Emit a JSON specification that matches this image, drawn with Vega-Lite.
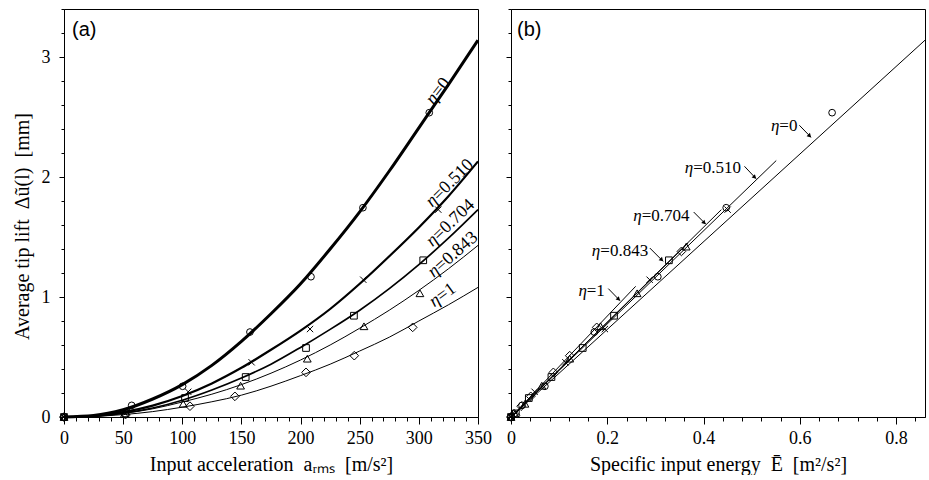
{
  "$schema": "https://vega.github.io/schema/vega-lite/v6.json",
  "background": "white",
  "padding": {"left": 11, "top": 7, "right": 0, "bottom": 0},
  "spacing": 33,
  "bounds": "flush",
  "config": {
    "font": "Liberation Serif, Times New Roman, serif",
    "view": {"stroke": "black", "strokeWidth": 1},
    "axis": {
      "domainColor": "black", "tickColor": "black", "labelColor": "black", "titleColor": "black",
      "grid": false, "labelFontSize": 18, "titleFontSize": 20, "titleFontWeight": "normal",
      "labelFont": "Liberation Serif, Times New Roman, serif", "titleFont": "Liberation Serif, Times New Roman, serif",
      "labelOverlap": false, "labelFlush": false, "domainWidth": 1, "tickWidth": 1
    },
    "text": {"font": "Liberation Serif, Times New Roman, serif", "color": "black"}
  },
  "datasets": {
    "curvesA": [
      {"eta": "0", "x": 0, "y": 0}, {"eta": "0", "x": 25, "y": 0.012}, {"eta": "0", "x": 50, "y": 0.06}, {"eta": "0", "x": 75, "y": 0.15}, {"eta": "0", "x": 100, "y": 0.27}, {"eta": "0", "x": 125, "y": 0.43}, {"eta": "0", "x": 150, "y": 0.63}, {"eta": "0", "x": 175, "y": 0.86}, {"eta": "0", "x": 200, "y": 1.11}, {"eta": "0", "x": 225, "y": 1.4}, {"eta": "0", "x": 250, "y": 1.71}, {"eta": "0", "x": 275, "y": 2.05}, {"eta": "0", "x": 300, "y": 2.41}, {"eta": "0", "x": 325, "y": 2.77}, {"eta": "0", "x": 350, "y": 3.14},
      {"eta": "0.510", "x": 0, "y": 0}, {"eta": "0.510", "x": 25, "y": 0.008}, {"eta": "0.510", "x": 50, "y": 0.04}, {"eta": "0.510", "x": 75, "y": 0.095}, {"eta": "0.510", "x": 100, "y": 0.175}, {"eta": "0.510", "x": 125, "y": 0.28}, {"eta": "0.510", "x": 150, "y": 0.41}, {"eta": "0.510", "x": 175, "y": 0.56}, {"eta": "0.510", "x": 200, "y": 0.72}, {"eta": "0.510", "x": 225, "y": 0.9}, {"eta": "0.510", "x": 250, "y": 1.11}, {"eta": "0.510", "x": 275, "y": 1.34}, {"eta": "0.510", "x": 300, "y": 1.58}, {"eta": "0.510", "x": 325, "y": 1.84}, {"eta": "0.510", "x": 350, "y": 2.13},
      {"eta": "0.704", "x": 0, "y": 0}, {"eta": "0.704", "x": 25, "y": 0.007}, {"eta": "0.704", "x": 50, "y": 0.032}, {"eta": "0.704", "x": 75, "y": 0.075}, {"eta": "0.704", "x": 100, "y": 0.14}, {"eta": "0.704", "x": 125, "y": 0.225}, {"eta": "0.704", "x": 150, "y": 0.325}, {"eta": "0.704", "x": 175, "y": 0.44}, {"eta": "0.704", "x": 200, "y": 0.58}, {"eta": "0.704", "x": 225, "y": 0.73}, {"eta": "0.704", "x": 250, "y": 0.89}, {"eta": "0.704", "x": 275, "y": 1.07}, {"eta": "0.704", "x": 300, "y": 1.27}, {"eta": "0.704", "x": 325, "y": 1.49}, {"eta": "0.704", "x": 350, "y": 1.728},
      {"eta": "0.843", "x": 0, "y": 0}, {"eta": "0.843", "x": 25, "y": 0.007}, {"eta": "0.843", "x": 50, "y": 0.03}, {"eta": "0.843", "x": 75, "y": 0.068}, {"eta": "0.843", "x": 100, "y": 0.125}, {"eta": "0.843", "x": 125, "y": 0.19}, {"eta": "0.843", "x": 150, "y": 0.27}, {"eta": "0.843", "x": 175, "y": 0.365}, {"eta": "0.843", "x": 200, "y": 0.475}, {"eta": "0.843", "x": 225, "y": 0.6}, {"eta": "0.843", "x": 250, "y": 0.74}, {"eta": "0.843", "x": 275, "y": 0.89}, {"eta": "0.843", "x": 300, "y": 1.055}, {"eta": "0.843", "x": 325, "y": 1.235}, {"eta": "0.843", "x": 350, "y": 1.43},
      {"eta": "1", "x": 0, "y": 0}, {"eta": "1", "x": 25, "y": 0.005}, {"eta": "1", "x": 50, "y": 0.02}, {"eta": "1", "x": 75, "y": 0.045}, {"eta": "1", "x": 100, "y": 0.082}, {"eta": "1", "x": 125, "y": 0.127}, {"eta": "1", "x": 150, "y": 0.182}, {"eta": "1", "x": 175, "y": 0.257}, {"eta": "1", "x": 200, "y": 0.345}, {"eta": "1", "x": 225, "y": 0.44}, {"eta": "1", "x": 250, "y": 0.55}, {"eta": "1", "x": 275, "y": 0.665}, {"eta": "1", "x": 300, "y": 0.8}, {"eta": "1", "x": 325, "y": 0.935}, {"eta": "1", "x": 350, "y": 1.08}
    ],
    "pointsA": [
      {"eta": "0", "x": 0, "y": 0}, {"eta": "0", "x": 57.2, "y": 0.097}, {"eta": "0", "x": 100.3, "y": 0.256}, {"eta": "0", "x": 157.2, "y": 0.708}, {"eta": "0", "x": 208.8, "y": 1.169}, {"eta": "0", "x": 252.7, "y": 1.744}, {"eta": "0", "x": 308.8, "y": 2.536},
      {"eta": "0.510", "x": 0, "y": 0}, {"eta": "0.510", "x": 53, "y": 0.04}, {"eta": "0.510", "x": 105, "y": 0.21}, {"eta": "0.510", "x": 158.6, "y": 0.456}, {"eta": "0.510", "x": 208, "y": 0.733}, {"eta": "0.510", "x": 253, "y": 1.144}, {"eta": "0.510", "x": 316.4, "y": 1.728},
      {"eta": "0.704", "x": 0, "y": 0}, {"eta": "0.704", "x": 52, "y": 0.03}, {"eta": "0.704", "x": 102.3, "y": 0.158}, {"eta": "0.704", "x": 153.6, "y": 0.333}, {"eta": "0.704", "x": 204.6, "y": 0.575}, {"eta": "0.704", "x": 245.1, "y": 0.844}, {"eta": "0.704", "x": 303.7, "y": 1.306},
      {"eta": "0.843", "x": 0, "y": 0}, {"eta": "0.843", "x": 51, "y": 0.025}, {"eta": "0.843", "x": 100.8, "y": 0.11}, {"eta": "0.843", "x": 149.3, "y": 0.261}, {"eta": "0.843", "x": 205.7, "y": 0.486}, {"eta": "0.843", "x": 253.6, "y": 0.756}, {"eta": "0.843", "x": 300.9, "y": 1.031},
      {"eta": "1", "x": 0, "y": 0}, {"eta": "1", "x": 52, "y": 0.02}, {"eta": "1", "x": 106.5, "y": 0.09}, {"eta": "1", "x": 144.5, "y": 0.172}, {"eta": "1", "x": 204.6, "y": 0.372}, {"eta": "1", "x": 245.4, "y": 0.511}, {"eta": "1", "x": 294.8, "y": 0.747}
    ],
    "labelsA": [
      {"eta": "0", "x": 316.4, "y": 2.714, "t": "=0"},
      {"eta": "0.510", "x": 326.3, "y": 1.95, "t": "=0.510"},
      {"eta": "0.704", "x": 326.9, "y": 1.617, "t": "=0.704"},
      {"eta": "0.843", "x": 328.9, "y": 1.353, "t": "=0.843"},
      {"eta": "1", "x": 320.1, "y": 1.014, "t": "=1"}
    ],
    "linesB": [
      {"eta": "0", "x": 0, "y": 0}, {"eta": "0", "x": 0.86, "y": 3.14},
      {"eta": "0.510", "x": 0, "y": 0}, {"eta": "0.510", "x": 0.551, "y": 2.137},
      {"eta": "0.704", "x": 0, "y": 0}, {"eta": "0.704", "x": 0.437, "y": 1.728},
      {"eta": "0.843", "x": 0, "y": 0}, {"eta": "0.843", "x": 0.368, "y": 1.45},
      {"eta": "1", "x": 0, "y": 0}, {"eta": "1", "x": 0.259, "y": 1.089}
    ],
    "pointsB": [
      {"eta": "0", "x": 0, "y": 0}, {"eta": "0", "x": 0.0229, "y": 0.097}, {"eta": "0", "x": 0.0704, "y": 0.256}, {"eta": "0", "x": 0.173, "y": 0.708}, {"eta": "0", "x": 0.305, "y": 1.169}, {"eta": "0", "x": 0.447, "y": 1.744}, {"eta": "0", "x": 0.667, "y": 2.536},
      {"eta": "0.510", "x": 0, "y": 0}, {"eta": "0.510", "x": 0.012, "y": 0.04}, {"eta": "0.510", "x": 0.049, "y": 0.21}, {"eta": "0.510", "x": 0.113, "y": 0.456}, {"eta": "0.510", "x": 0.195, "y": 0.733}, {"eta": "0.510", "x": 0.288, "y": 1.144}, {"eta": "0.510", "x": 0.45, "y": 1.728},
      {"eta": "0.704", "x": 0, "y": 0}, {"eta": "0.704", "x": 0.01, "y": 0.03}, {"eta": "0.704", "x": 0.037, "y": 0.158}, {"eta": "0.704", "x": 0.084, "y": 0.333}, {"eta": "0.704", "x": 0.149, "y": 0.575}, {"eta": "0.704", "x": 0.214, "y": 0.844}, {"eta": "0.704", "x": 0.328, "y": 1.306},
      {"eta": "0.843", "x": 0, "y": 0}, {"eta": "0.843", "x": 0.008, "y": 0.025}, {"eta": "0.843", "x": 0.029, "y": 0.11}, {"eta": "0.843", "x": 0.064, "y": 0.261}, {"eta": "0.843", "x": 0.122, "y": 0.486}, {"eta": "0.843", "x": 0.186, "y": 0.756}, {"eta": "0.843", "x": 0.262, "y": 1.031}, {"eta": "0.843", "x": 0.364, "y": 1.42},
      {"eta": "1", "x": 0, "y": 0}, {"eta": "1", "x": 0.005, "y": 0.02}, {"eta": "1", "x": 0.021, "y": 0.09}, {"eta": "1", "x": 0.041, "y": 0.172}, {"eta": "1", "x": 0.088, "y": 0.372}, {"eta": "1", "x": 0.122, "y": 0.511}, {"eta": "1", "x": 0.178, "y": 0.747}, {"eta": "1", "x": 0.354, "y": 1.38}
    ],
    "labelsB": [
      {"eta": "0", "x": 0.595, "y": 2.4225, "t": "=0"},
      {"eta": "0.510", "x": 0.478, "y": 2.075, "t": "=0.510"},
      {"eta": "0.704", "x": 0.371, "y": 1.678, "t": "=0.704"},
      {"eta": "0.843", "x": 0.285, "y": 1.387, "t": "=0.843"},
      {"eta": "1", "x": 0.195, "y": 1.0475, "t": "=1"}
    ],
    "arrowsB": [
      {"eta": "0", "x": 0.599, "y": 2.431, "x2": 0.6232, "y2": 2.331},
      {"eta": "0.510", "x": 0.485, "y": 2.089, "x2": 0.509, "y2": 1.987},
      {"eta": "0.704", "x": 0.3795, "y": 1.708, "x2": 0.4043, "y2": 1.608},
      {"eta": "0.843", "x": 0.2884, "y": 1.408, "x2": 0.316, "y2": 1.297},
      {"eta": "1", "x": 0.2021, "y": 1.07, "x2": 0.2263, "y2": 0.97}
    ],
    "tipsB": [
      {"eta": "0", "x": 0.6205, "y": 2.342},
      {"eta": "0.510", "x": 0.5063, "y": 1.998},
      {"eta": "0.704", "x": 0.4015, "y": 1.619},
      {"eta": "0.843", "x": 0.3132, "y": 1.309},
      {"eta": "1", "x": 0.2236, "y": 0.981}
    ],
    "panelA": [{"x": 6.8, "y": 3.227, "t": "(a)"}],
    "panelB": [{"x": 0.0125, "y": 3.227, "t": "(b)"}]
  },
  "hconcat": [
    {
      "width": 414,
      "height": 408,
      "encoding": {
        "x": {
          "field": "x", "type": "quantitative",
          "scale": {"domain": [0, 350], "nice": false, "zero": false},
          "axis": {
            "title": "Input acceleration \u00a0aᵣₘₛ\u00a0 [m/s²]",
            "values": [0,10,20,30,40,50,60,70,80,90,100,110,120,130,140,150,160,170,180,190,200,210,220,230,240,250,260,270,280,290,300,310,320,330,340,350],
            "labelExpr": "datum.value % 50 === 0 ? datum.label : ''",
            "tickSize": {"condition": {"test": "datum.value % 50 === 0", "value": 7}, "value": 4},
            "labelPadding": 5, "titlePadding": 7
          }
        },
        "y": {
          "field": "y", "type": "quantitative",
          "scale": {"domain": [0, 3.4], "nice": false, "zero": false},
          "axis": {
            "title": "Average tip lift \u00a0Δũ(l)\u00a0 [mm]",
            "titleY": 217,
            "values": [0,0.2,0.4,0.6,0.8,1,1.2,1.4,1.6,1.8,2,2.2,2.4,2.6,2.8,3,3.2,3.4],
            "labelExpr": "abs(datum.value - round(datum.value)) < 0.001 ? format(datum.value, 'd') : ''",
            "labelFontSize": {"condition": {"test": "abs(datum.value - round(datum.value)) < 0.001", "value": 18}, "value": 1},
            "tickSize": {"condition": {"test": "abs(datum.value - round(datum.value)) < 0.001", "value": 5}, "value": 3},
            "labelPadding": 9, "titlePadding": 9
          }
        }
      },
      "layer": [
        {
          "data": {"name": "curvesA"},
          "mark": {"type": "line", "interpolate": "monotone", "color": "black"},
          "encoding": {
            "detail": {"field": "eta", "type": "nominal"},
            "strokeWidth": {"field": "eta", "type": "ordinal", "scale": {"type": "ordinal", "domain": ["0", "0.510", "0.704", "0.843", "1"], "range": [3, 2.2, 1.7, 1, 1]}, "legend": null}
          }
        },
        {
          "data": {"name": "pointsA"},
          "mark": {"type": "point", "filled": false, "color": "black", "strokeWidth": 1, "opacity": 1},
          "encoding": {
            "shape": {"field": "eta", "type": "nominal", "scale": {"domain": ["0", "0.510", "0.704", "0.843", "1"], "range": ["circle", "M-1,-1L1,1M-1,1L1,-1", "square", "triangle-up", "diamond"]}, "legend": null},
            "size": {"field": "eta", "type": "ordinal", "scale": {"type": "ordinal", "domain": ["0", "0.510", "0.704", "0.843", "1"], "range": [45, 40, 45, 60, 75]}, "legend": null}
          }
        },
        {"data": {"name": "labelsA"}, "transform": [{"filter": "datum.eta === '0'"}],
          "mark": {"type": "text", "angle": 308, "align": "left", "baseline": "middle", "fontSize": 18, "dx": -5},
          "encoding": {"text": {"field": "t"}}},
        {"data": {"name": "labelsA"}, "transform": [{"filter": "datum.eta === '0'"}],
          "mark": {"type": "text", "angle": 308, "align": "right", "baseline": "middle", "fontSize": 18, "fontStyle": "italic", "dx": -5},
          "encoding": {"text": {"value": "η"}}},
        {"data": {"name": "labelsA"}, "transform": [{"filter": "datum.eta === '0.510'"}],
          "mark": {"type": "text", "angle": 315, "align": "left", "baseline": "middle", "fontSize": 18, "dx": -21},
          "encoding": {"text": {"field": "t"}}},
        {"data": {"name": "labelsA"}, "transform": [{"filter": "datum.eta === '0.510'"}],
          "mark": {"type": "text", "angle": 315, "align": "right", "baseline": "middle", "fontSize": 18, "fontStyle": "italic", "dx": -21},
          "encoding": {"text": {"value": "η"}}},
        {"data": {"name": "labelsA"}, "transform": [{"filter": "datum.eta === '0.704'"}],
          "mark": {"type": "text", "angle": 316, "align": "left", "baseline": "middle", "fontSize": 18, "dx": -21},
          "encoding": {"text": {"field": "t"}}},
        {"data": {"name": "labelsA"}, "transform": [{"filter": "datum.eta === '0.704'"}],
          "mark": {"type": "text", "angle": 316, "align": "right", "baseline": "middle", "fontSize": 18, "fontStyle": "italic", "dx": -21},
          "encoding": {"text": {"value": "η"}}},
        {"data": {"name": "labelsA"}, "transform": [{"filter": "datum.eta === '0.843'"}],
          "mark": {"type": "text", "angle": 319, "align": "left", "baseline": "middle", "fontSize": 18, "dx": -21},
          "encoding": {"text": {"field": "t"}}},
        {"data": {"name": "labelsA"}, "transform": [{"filter": "datum.eta === '0.843'"}],
          "mark": {"type": "text", "angle": 319, "align": "right", "baseline": "middle", "fontSize": 18, "fontStyle": "italic", "dx": -21},
          "encoding": {"text": {"value": "η"}}},
        {"data": {"name": "labelsA"}, "transform": [{"filter": "datum.eta === '1'"}],
          "mark": {"type": "text", "angle": 324, "align": "left", "baseline": "middle", "fontSize": 18, "dx": -5},
          "encoding": {"text": {"field": "t"}}},
        {"data": {"name": "labelsA"}, "transform": [{"filter": "datum.eta === '1'"}],
          "mark": {"type": "text", "angle": 324, "align": "right", "baseline": "middle", "fontSize": 18, "fontStyle": "italic", "dx": -5},
          "encoding": {"text": {"value": "η"}}},
        {
          "data": {"name": "panelA"},
          "mark": {"type": "text", "align": "left", "baseline": "middle", "fontSize": 20, "font": "Liberation Sans, Arial, sans-serif"},
          "encoding": {"text": {"field": "t"}}
        }
      ]
    },
    {
      "width": 414,
      "height": 408,
      "encoding": {
        "x": {
          "field": "x", "type": "quantitative",
          "scale": {"domain": [0, 0.86], "nice": false, "zero": false},
          "axis": {
            "title": "Specific input energy \u00a0Ē\u00a0 [m²/s²]",
            "values": [0,0.04,0.08,0.12,0.16,0.2,0.24,0.28,0.32,0.36,0.4,0.44,0.48,0.52,0.56,0.6,0.64,0.68,0.72,0.76,0.8,0.84],
            "labelExpr": "abs(datum.value*5 - round(datum.value*5)) < 0.001 ? format(datum.value, '.1~f') : ''",
            "tickSize": {"condition": {"test": "abs(datum.value*5 - round(datum.value*5)) < 0.001", "value": 7}, "value": 4},
            "labelPadding": 5, "titlePadding": 7
          }
        },
        "y": {
          "field": "y", "type": "quantitative",
          "scale": {"domain": [0, 3.4], "nice": false, "zero": false},
          "axis": {
            "title": null,
            "labels": false,
            "values": [0,0.2,0.4,0.6,0.8,1,1.2,1.4,1.6,1.8,2,2.2,2.4,2.6,2.8,3,3.2,3.4],
            "tickSize": {"condition": {"test": "abs(datum.value - round(datum.value)) < 0.001", "value": 5}, "value": 3}
          }
        }
      },
      "layer": [
        {
          "data": {"name": "linesB"},
          "mark": {"type": "line", "color": "black", "strokeWidth": 1},
          "encoding": {"detail": {"field": "eta", "type": "nominal"}}
        },
        {
          "data": {"name": "pointsB"},
          "mark": {"type": "point", "filled": false, "color": "black", "strokeWidth": 1, "opacity": 1},
          "encoding": {
            "shape": {"field": "eta", "type": "nominal", "scale": {"domain": ["0", "0.510", "0.704", "0.843", "1"], "range": ["circle", "M-1,-1L1,1M-1,1L1,-1", "square", "triangle-up", "diamond"]}, "legend": null},
            "size": {"field": "eta", "type": "ordinal", "scale": {"type": "ordinal", "domain": ["0", "0.510", "0.704", "0.843", "1"], "range": [45, 40, 45, 60, 75]}, "legend": null}
          }
        },
        {
          "data": {"name": "arrowsB"},
          "mark": {"type": "rule", "color": "black", "strokeWidth": 1},
          "encoding": {"x2": {"field": "x2"}, "y2": {"field": "y2"}}
        },
        {
          "data": {"name": "tipsB"},
          "mark": {"type": "point", "shape": "triangle-right", "angle": 45, "filled": true, "color": "black", "size": 22, "opacity": 1},
          "encoding": {}
        },
        {
          "data": {"name": "labelsB"},
          "mark": {"type": "text", "align": "right", "baseline": "middle", "fontSize": 17},
          "encoding": {"text": {"field": "t"}}
        },
        {
          "data": {"name": "labelsB"}, "transform": [{"filter": "datum.eta === '0' || datum.eta === '1'"}],
          "mark": {"type": "text", "align": "right", "baseline": "middle", "fontSize": 17, "fontStyle": "italic", "dx": -18},
          "encoding": {"text": {"value": "η"}}
        },
        {
          "data": {"name": "labelsB"}, "transform": [{"filter": "datum.eta !== '0' && datum.eta !== '1'"}],
          "mark": {"type": "text", "align": "right", "baseline": "middle", "fontSize": 17, "fontStyle": "italic", "dx": -48},
          "encoding": {"text": {"value": "η"}}
        },
        {
          "data": {"name": "panelB"},
          "mark": {"type": "text", "align": "left", "baseline": "middle", "fontSize": 20, "font": "Liberation Sans, Arial, sans-serif"},
          "encoding": {"text": {"field": "t"}}
        }
      ]
    }
  ]
}
